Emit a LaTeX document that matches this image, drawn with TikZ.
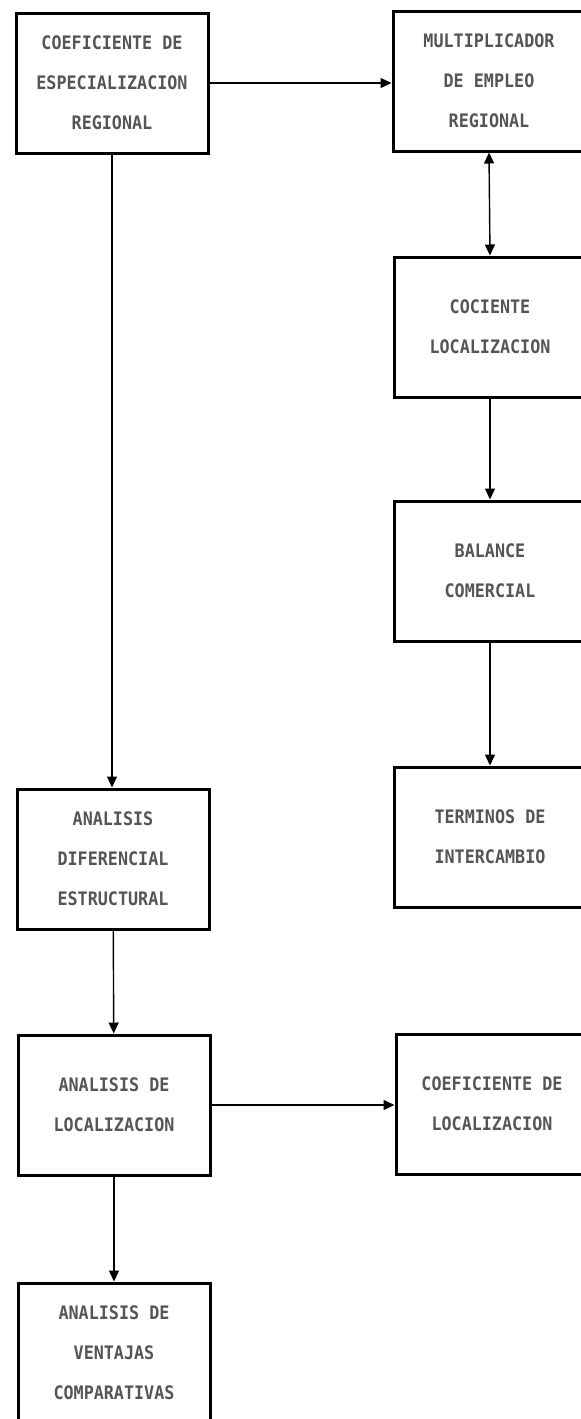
\documentclass[tikz,border=0pt]{standalone}
\usepackage{fontspec}
\newfontfamily\boxfont[FakeStretch=0.9]{DejaVu Sans Mono}
\usetikzlibrary{arrows.meta}
\definecolor{txtgray}{RGB}{85,85,85}
\tikzset{
	block/.style={draw, line width=1.5pt, minimum width=96pt, minimum height=70pt,
		inner sep=0pt, align=center, text=txtgray,
		font=\boxfont\bfseries\fontsize{9.3}{20}\selectfont},
	tip/.tip={Triangle[length=5.5pt,width=5pt]},
	link/.style={line width=0.7pt, -tip}
}
\begin{document}
\begin{tikzpicture}[x=0.5pt,y=-0.5pt]
		\clip (0,0) rectangle (581,1419);
		\fill[white] (0,0) rectangle (581,1419);
		\node[block] (coefesp) at (112,83) {COEFICIENTE DE\\ESPECIALIZACION\\REGIONAL};
		\node[block] (multemp) at (489,81) {MULTIPLICADOR\\DE EMPLEO\\REGIONAL};
		\node[block] (cocloc) at (490,327) {COCIENTE\\LOCALIZACION};
		\node[block] (balcom) at (490,571) {BALANCE\\COMERCIAL};
		\node[block] (termint) at (490,837) {TERMINOS DE\\INTERCAMBIO};
		\node[block] (anadif) at (113,859) {ANALISIS\\DIFERENCIAL\\ESTRUCTURAL};
		\node[block] (analoc) at (114,1105) {ANALISIS DE\\LOCALIZACION};
		\node[block] (coefloc) at (492,1104) {COEFICIENTE DE\\LOCALIZACION};
		\node[block] (anaven) at (114,1353) {ANALISIS DE\\VENTAJAS\\COMPARATIVAS};
		\draw[link] (coefesp.east) -- (coefesp.east -| multemp.west);
		\draw[link, tip-tip] (multemp.south) -- (cocloc.north);
		\draw[link] (cocloc) -- (balcom);
		\draw[link] (balcom) -- (termint);
		\draw[link] (coefesp.south) -- (coefesp.south |- anadif.north);
		\draw[link] (anadif) -- (analoc);
		\draw[link] (analoc.east) -- (analoc.east -| coefloc.west);
		\draw[link] (analoc) -- (anaven);
	\end{tikzpicture}
\end{document}
